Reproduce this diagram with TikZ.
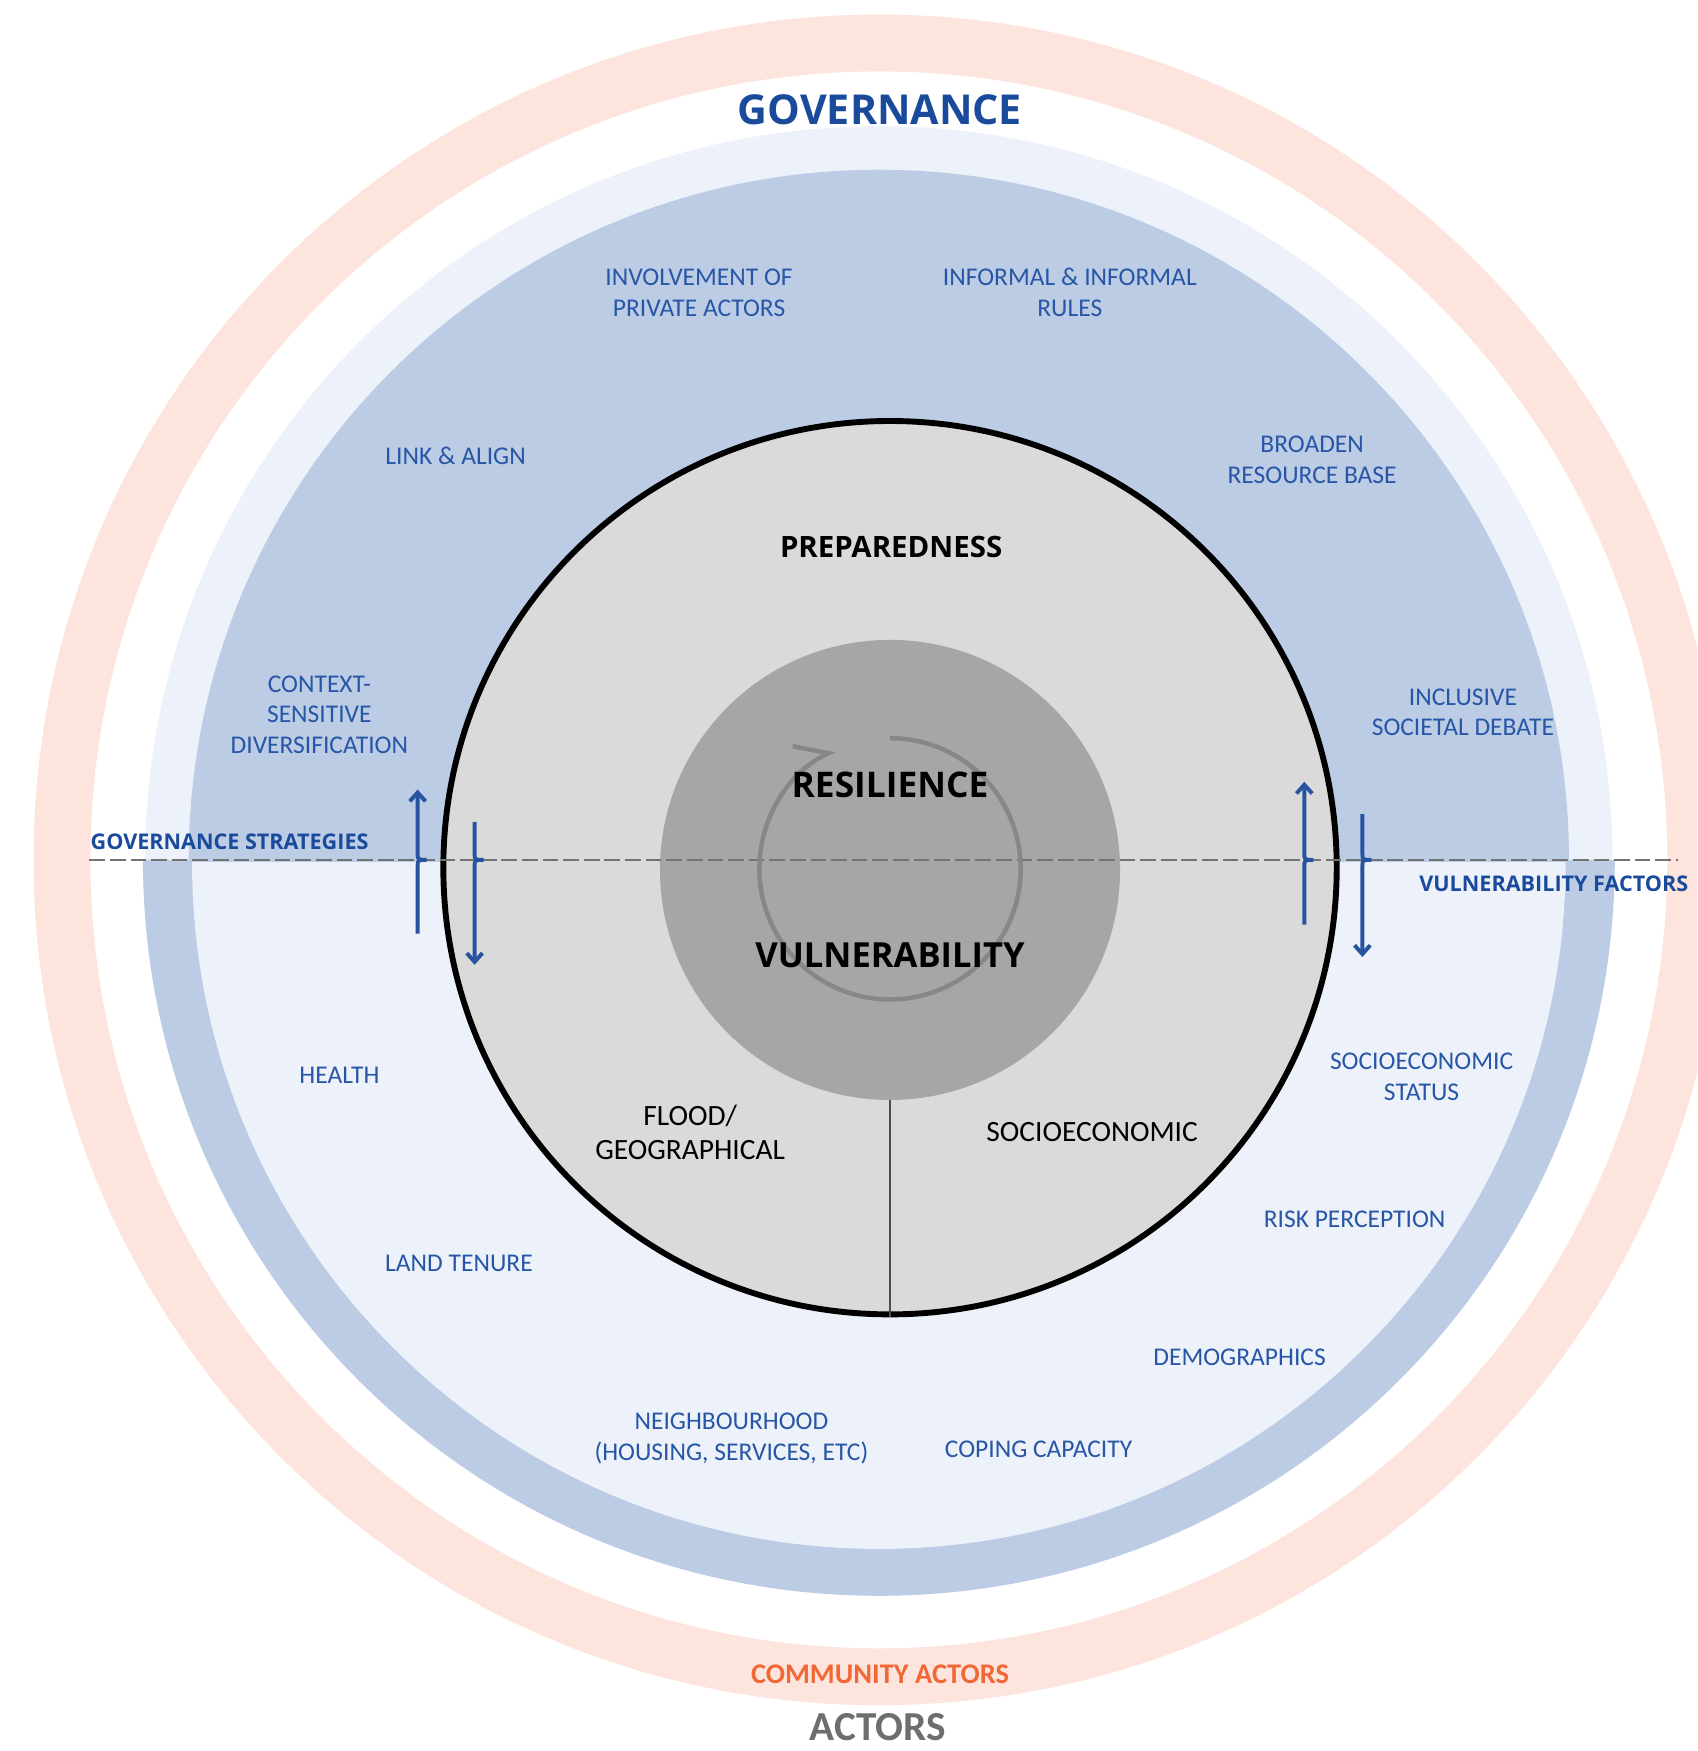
\documentclass[tikz,border=0pt]{standalone}
\usepackage{fontspec}
\setmainfont{Carlito}
\newfontfamily\headfont{Open Sans}
\usepackage{xcolor}
\usepackage{tikz}
\usetikzlibrary{arrows.meta}
\definecolor{salmonring}{RGB}{253,229,222}
\definecolor{paleblue}{RGB}{236,241,250}
\definecolor{midblue}{RGB}{187,204,228}
\definecolor{labelblue}{RGB}{40,86,166}
\definecolor{titleblue}{RGB}{26,74,155}
\definecolor{arrowblue}{RGB}{38,84,160}
\definecolor{ringgrey}{RGB}{218,218,218}
\definecolor{coregrey}{RGB}{166,166,166}
\definecolor{commorange}{RGB}{241,104,54}
\definecolor{actorgrey}{RGB}{110,110,110}
\newcommand{\labelsize}{\fontsize{13}{15.6}\selectfont}
\newcommand{\headsize}[1]{\headfont\bfseries\fontsize{#1}{#1}\selectfont}

\begin{document}
\begin{tikzpicture}[x=0.2mm,y=-0.2mm,
    labeltext/.style={text=labelblue,font=\labelsize,align=center},
    trendarrow/.style={draw=arrowblue,line width=2pt,-{Straight Barb[length=4.5pt,width=8pt]}}]
    \useasboundingbox (0,0) rectangle (1520,1568);
    \clip (0,0) rectangle (1520,1568);
    % outer rings
    \fill[salmonring,even odd rule] (787,770) circle[radius=757] circle[radius=706];
    \fill[paleblue] (130,770) arc[start angle=180,end angle=360,radius=657] -- cycle;
    \fill[midblue] (169,770) arc[start angle=180,end angle=360,radius=618] -- cycle;
    \fill[midblue] (128,770) arc[start angle=180,end angle=0,radius=659] -- cycle;
    \fill[paleblue] (172,772) arc[start angle=180,end angle=0,radius=615] -- cycle;
    % circles
    \node[circle,fill=ringgrey,draw=black,line width=3pt,minimum size=160mm,inner sep=0pt] (ring) at (797,777) {};
    \node[circle,fill=coregrey,minimum size=82.4mm,inner sep=0pt] (core) at (797,779) {};
    \draw[black!70,line width=0.6pt] (core.south) -- (ring.south);
    \draw[black!55,line width=1.3pt,dash pattern=on 8pt off 2.5pt] (80,770) -- (1503,770);
    \draw[black!47,line width=2.3pt,-{Straight Barb[left,length=15pt,width=22pt]}] (797,778) ++(-90:117) arc[start angle=-90,end angle=245,radius=117];
    % texts
    \node[text=titleblue,font=\headsize{21}] (gov) at (788,98) {GOVERNANCE};
    \node[font=\headsize{15}] (prep) at (798,490) {PREPAREDNESS};
    \node[font=\headsize{18}] (resil) at (797,703) {RESILIENCE};
    \node[font=\headsize{17.6}] (vuln) at (797,855) {VULNERABILITY};
    \node[font=\fontsize{15}{17}\selectfont,align=center] (flood) at (618,1014) {FLOOD/\\GEOGRAPHICAL};
    \node[font=\fontsize{15}{17}\selectfont] (socio) at (978,1014) {SOCIOECONOMIC};
    \node[text=titleblue,font=\headsize{11},anchor=west] (govstrat) at (75,754) {GOVERNANCE STRATEGIES};
    \node[text=titleblue,font=\headsize{11},anchor=east] (vulnfac) at (1518,791) {VULNERABILITY FACTORS};
    \node[text=commorange,font=\bfseries\fontsize{14.5}{14.5}\selectfont] (comm) at (788,1499) {COMMUNITY ACTORS};
    \node[text=actorgrey,font=\bfseries\fontsize{21}{21}\selectfont,inner sep=0pt] (actors) at (786,1547) {ACTORS};
    \foreach \x/\y/\t [count=\i] in {626/262/{INVOLVEMENT OF\\PRIVATE ACTORS},
        958/262/{INFORMAL \& INFORMAL\\RULES}, 408/408/{LINK \& ALIGN},
        1175/412/{BROADEN\\RESOURCE BASE}, 286/640/{CONTEXT-\\SENSITIVE\\DIVERSIFICATION},
        1310/638/{INCLUSIVE\\SOCIETAL DEBATE}, 304/963/{HEALTH},
        1273/964/{SOCIOECONOMIC\\STATUS}, 411/1131/{LAND TENURE},
        1213/1092/{RISK PERCEPTION}, 1110/1215/{DEMOGRAPHICS},
        655/1288/{NEIGHBOURHOOD\\(HOUSING, SERVICES, ETC)}, 930/1298/{COPING CAPACITY}}{%
        \node[labeltext] (lbl\i) at (\x,\y) {\t};
    }
    % arrows across the line
    \foreach \x/\a/\b [count=\i] in {374/836/707, 425/736/864, 1168/828/700, 1220/729/857}{%
        \pgfmathsetmacro{\s}{\a>\b ? 6 : -6}
        \coordinate (from\i) at (\x,\a);
        \coordinate (to\i) at (\x,\b);
        \draw[trendarrow] (from\i) -- (\x,{770+\s}) .. controls (\x,770) .. (\x+8,770) .. controls (\x,770) .. (\x,{770-\s}) -- (to\i);
    }
\end{tikzpicture}
\end{document}
